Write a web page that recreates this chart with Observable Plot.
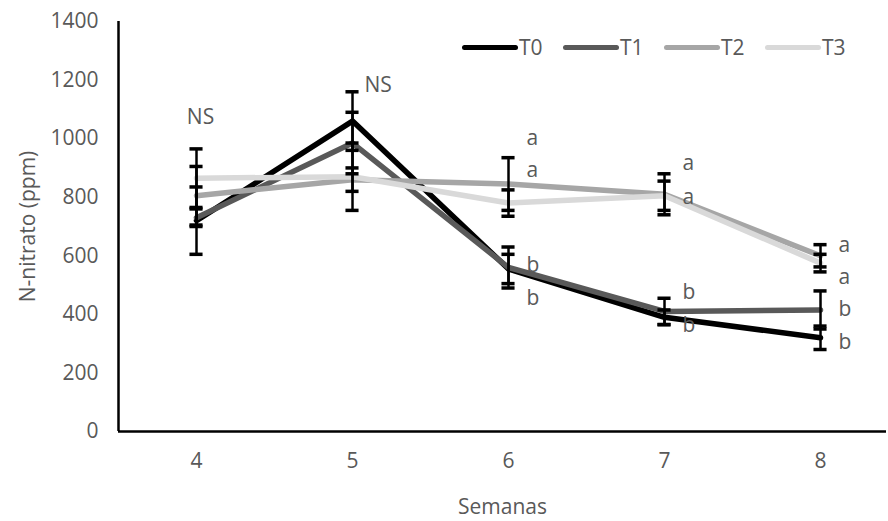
<!DOCTYPE html>
<html>
<head>
<meta charset="utf-8">
<script src="https://cdn.jsdelivr.net/npm/d3@7"></script>
<script src="https://cdn.jsdelivr.net/npm/@observablehq/plot@0.6"></script>
<style>
  body { margin: 0; background: #fff; }
  #wrap { position: relative; width: 888px; height: 521px; font-family: "Open Sans", sans-serif; }
  #legend { position: absolute; top: 33px; left: 462px; display: flex; align-items: center; color: #595959; font-size: 21px; }
  .item { display: flex; align-items: center; width: 101px; }
  .sw { width: 56px; height: 5px; border-radius: 3px; margin-right: 1px; }
</style>
</head>
<body>
<div id="wrap"></div>
<script>
const weeks = [4, 5, 6, 7, 8];
const seriesNames = ["T0", "T1", "T2", "T3"];
const seriesColors = ["#000000", "#595959", "#a6a6a6", "#d9d9d9"];
const t0 = [720, 1060, 555, 390, 320];
const t1 = [730, 985, 560, 410, 415];
const t2 = [805, 860, 845, 810, 600];
const t3 = [865, 870, 780, 805, 575];
const e0 = [115, 100, 50, 25, 40];
const e1 = [30, 105, 70, 45, 65];
const e2 = [100, 40, 90, 70, 38];
const e3 = [100, 115, 45, 50, 30];
const yTicks = [0, 200, 400, 600, 800, 1000, 1200, 1400];
const labelWeeks = [4, 5, 6, 6, 6, 6, 7, 7, 7, 7, 8, 8, 8, 8];
const labelValues = [1072, 1181, 1000, 891, 567, 454, 915, 799, 475, 362, 635, 526, 417, 304];
const labelTexts = ["NS", "NS", "a", "a", "b", "b", "a", "a", "b", "b", "a", "a", "b", "b"];

const values = [t0, t1, t2, t3];
const errors = [e0, e1, e2, e3];
const data = [];
seriesNames.forEach((s, i) => weeks.forEach((w, j) => data.push({series: s, week: w, value: values[i][j], err: errors[i][j]})));
const labels = labelWeeks.map((w, i) => ({week: w, value: labelValues[i], text: labelTexts[i]}));
const capHalf = 0.042;

const chart = Plot.plot({
  width: 888, height: 521,
  marginLeft: 118, marginRight: 2, marginTop: 21, marginBottom: 90,
  style: {fontFamily: "Open Sans, sans-serif", fontSize: "21px", color: "#595959", background: "#fff"},
  x: {domain: [3.5, 8.423], ticks: weeks, tickFormat: d => String(d), tickSize: 0, tickPadding: 22, label: "Semanas", labelAnchor: "center", labelArrow: "none", labelOffset: 82},
  y: {domain: [0, 1400], ticks: yTicks, tickFormat: d => String(d), tickSize: 0, tickPadding: 20, label: "N-nitrato (ppm)", labelAnchor: "center", labelArrow: "none", labelOffset: 98},
  color: {domain: seriesNames, range: seriesColors},
  marks: [
    Plot.line(data, {x: "week", y: "value", z: "series", stroke: "series", strokeWidth: 5.5}),
    Plot.ruleX(data, {x: "week", y1: d => d.value - d.err, y2: d => d.value + d.err, stroke: "#000", strokeWidth: 2.5}),
    Plot.ruleY(data, {y: d => d.value + d.err, x1: d => d.week - capHalf, x2: d => d.week + capHalf, stroke: "#000", strokeWidth: 3.5}),
    Plot.ruleY(data, {y: d => d.value - d.err, x1: d => d.week - capHalf, x2: d => d.week + capHalf, stroke: "#000", strokeWidth: 3.5}),
    Plot.text(labels, {x: "week", y: "value", text: "text", dx: 18, textAnchor: "start", fill: "#595959", fontSize: 21, filter: d => d.text !== "NS"}),
    Plot.text(labels, {x: "week", y: "value", text: "text", dx: 12, textAnchor: "start", fill: "#595959", fontSize: 21, filter: d => d.text === "NS" && d.week === 5}),
    Plot.text(labels, {x: "week", y: "value", text: "text", dx: 4, textAnchor: "middle", fill: "#595959", fontSize: 21, filter: d => d.text === "NS" && d.week === 4}),
    Plot.ruleY([0], {stroke: "#000", strokeWidth: 2.5}),
    Plot.ruleX([3.5], {stroke: "#000", strokeWidth: 2.5})
  ]
});
const wrap = document.getElementById("wrap");
wrap.appendChild(chart);
const legend = document.createElement("div");
legend.id = "legend";
seriesNames.forEach((s, i) => {
  const item = document.createElement("div");
  item.className = "item";
  const sw = document.createElement("div");
  sw.className = "sw";
  sw.style.background = seriesColors[i];
  const t = document.createElement("span");
  t.textContent = s;
  item.appendChild(sw); item.appendChild(t);
  legend.appendChild(item);
});
wrap.appendChild(legend);
</script>
</body>
</html>
